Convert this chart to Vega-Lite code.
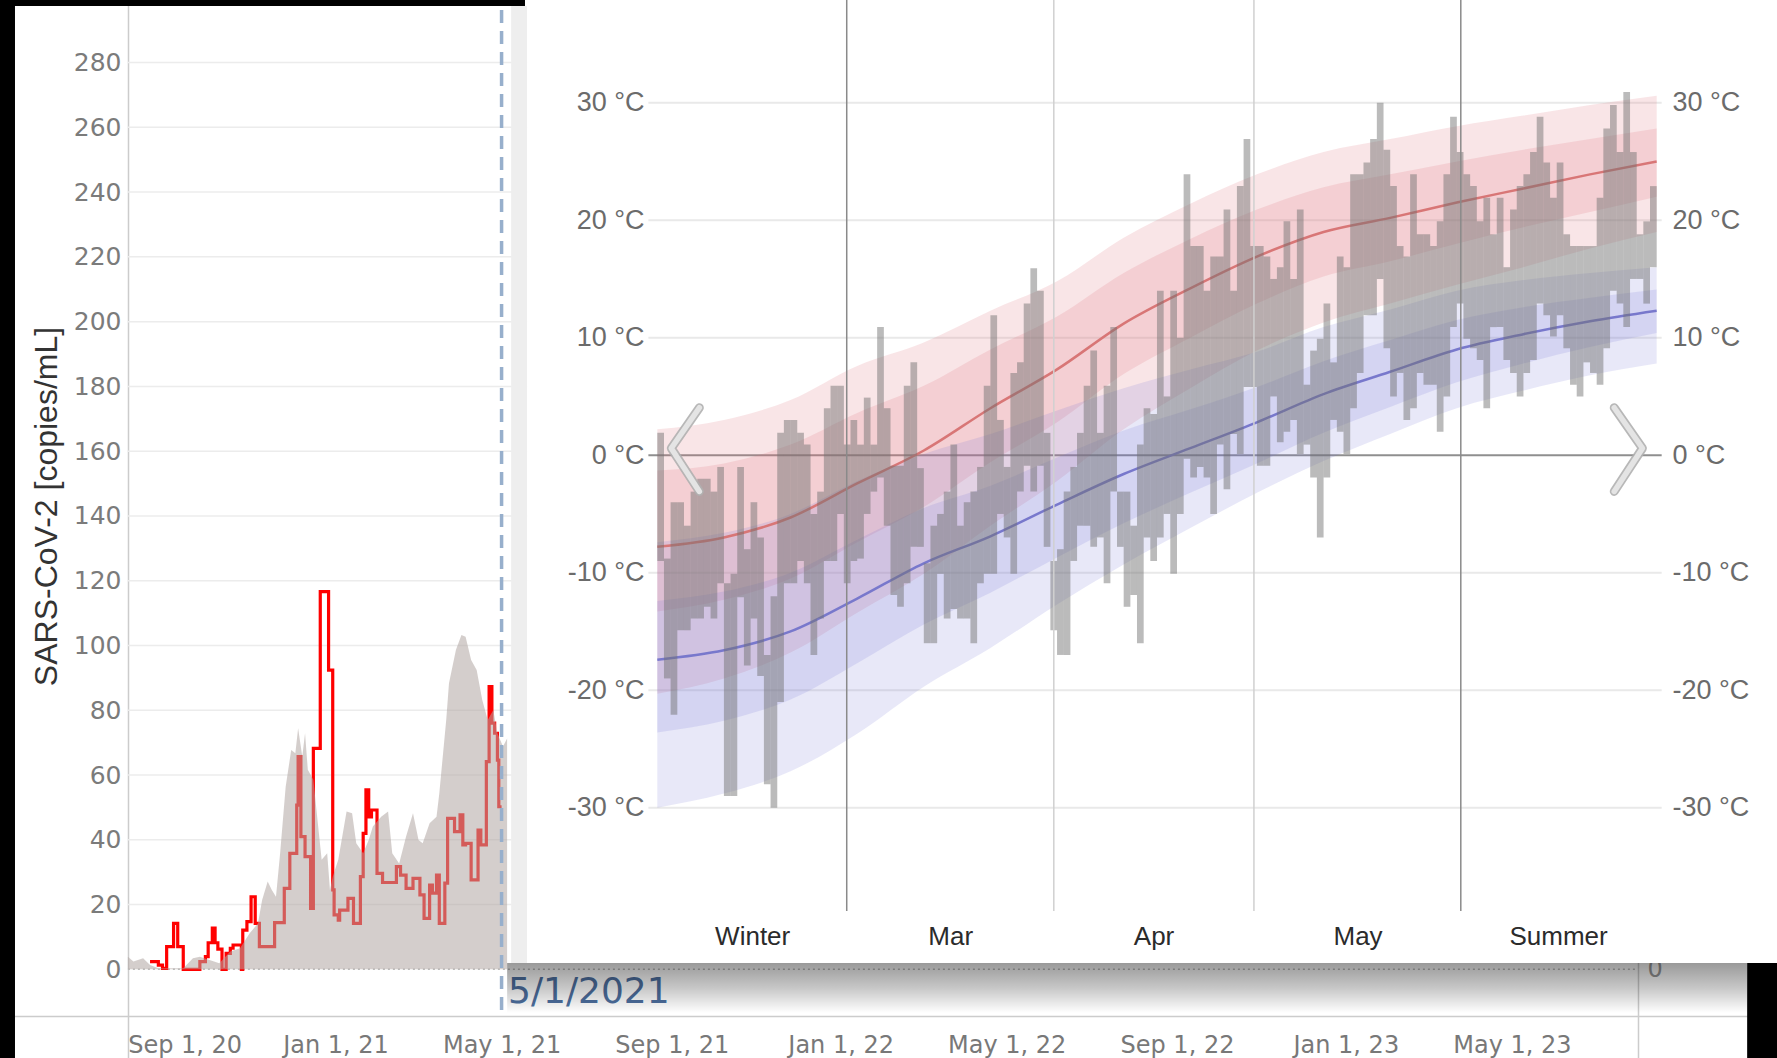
{
"$schema": "https://vega.github.io/schema/vega-lite/v6.json",
"width": 1777, "height": 1058, "padding": 0,
"autosize": {"type": "none"},
"background": "#ffffff",
"config": {"view": {"stroke": null}},
"datasets": {
"tgrid": [{"v":20},{"v":40},{"v":60},{"v":80},{"v":100},{"v":120},{"v":140},{"v":160},{"v":180},{"v":200},{"v":220},{"v":240},{"v":260},{"v":280}],
"tarea": [
{"date":"2020-08-04","v":3.9},{"date":"2020-08-08","v":2.4},{"date":"2020-08-15","v":3.4},{"date":"2020-08-20","v":1.3},{"date":"2020-08-26","v":0.3},{"date":"2020-09-13","v":0.3},{"date":"2020-09-20","v":3.4},{"date":"2020-09-25","v":3.9},{"date":"2020-10-02","v":2.9},{"date":"2020-10-09","v":1.9},{"date":"2020-10-17","v":5.5},{"date":"2020-10-24","v":6.5},{"date":"2020-10-31","v":11.1},{"date":"2020-11-06","v":14.2},{"date":"2020-11-09","v":21.4},{"date":"2020-11-13","v":27.1},{"date":"2020-11-16","v":24.5},{"date":"2020-11-19","v":22.4},{"date":"2020-11-22","v":35.8},{"date":"2020-11-26","v":56.4},{"date":"2020-11-30","v":67.7},{"date":"2020-12-03","v":66.7},{"date":"2020-12-05","v":74.4},{"date":"2020-12-08","v":65.7},{"date":"2020-12-10","v":72.9},{"date":"2020-12-12","v":61.6},{"date":"2020-12-16","v":58.5},{"date":"2020-12-20","v":42.0},{"date":"2020-12-22","v":33.8},{"date":"2020-12-26","v":35.8},{"date":"2020-12-28","v":24.5},{"date":"2020-12-30","v":28.6},{"date":"2021-01-03","v":33.8},{"date":"2021-01-09","v":48.7},{"date":"2021-01-13","v":48.2},{"date":"2021-01-16","v":38.9},{"date":"2021-01-21","v":35.8},{"date":"2021-01-25","v":39.9},{"date":"2021-01-28","v":44.1},{"date":"2021-02-03","v":47.1},{"date":"2021-02-08","v":48.7},{"date":"2021-02-11","v":35.8},{"date":"2021-02-16","v":32.7},{"date":"2021-02-21","v":41.0},{"date":"2021-02-26","v":48.2},{"date":"2021-03-02","v":39.9},{"date":"2021-03-05","v":38.9},{"date":"2021-03-10","v":45.1},{"date":"2021-03-15","v":47.1},{"date":"2021-03-17","v":54.3},{"date":"2021-03-22","v":77.0},{"date":"2021-03-24","v":88.3},{"date":"2021-03-29","v":98.6},{"date":"2021-04-02","v":103.2},{"date":"2021-04-05","v":102.7},{"date":"2021-04-09","v":95.5},{"date":"2021-04-13","v":92.4},{"date":"2021-04-17","v":83.2},{"date":"2021-04-21","v":77.0},{"date":"2021-04-25","v":80.1},{"date":"2021-04-28","v":72.9},{"date":"2021-05-02","v":68.8},{"date":"2021-05-05","v":71.3}],
"red": [
{"date":"2020-08-20","v":2.4},{"date":"2020-08-26","v":1.3},{"date":"2020-08-29","v":0.3},{"date":"2020-09-01","v":7.0},{"date":"2020-09-06","v":14.2},{"date":"2020-09-09","v":7.0},{"date":"2020-09-13","v":0},{"date":"2020-09-25","v":2.4},{"date":"2020-09-29","v":3.9},{"date":"2020-10-01","v":8.2},{"date":"2020-10-04","v":12.7},{"date":"2020-10-06","v":8.2},{"date":"2020-10-08","v":6.2},{"date":"2020-10-11","v":0},{"date":"2020-10-14","v":4.9},{"date":"2020-10-17","v":6.5},{"date":"2020-10-19","v":7.5},{"date":"2020-10-25","v":0},{"date":"2020-10-26","v":12.1},{"date":"2020-10-29","v":14.7},{"date":"2020-11-01","v":22.4},{"date":"2020-11-04","v":14.2},{"date":"2020-11-07","v":7.0},{"date":"2020-11-14","v":7.0},{"date":"2020-11-18","v":14.4},{"date":"2020-11-25","v":25.0},{"date":"2020-11-29","v":35.8},{"date":"2020-12-04","v":50.7},{"date":"2020-12-05","v":65.7},{"date":"2020-12-07","v":41.0},{"date":"2020-12-10","v":34.8},{"date":"2020-12-14","v":18.8},{"date":"2020-12-16","v":68.2},{"date":"2020-12-21","v":116.6},{"date":"2020-12-27","v":92.4},{"date":"2020-12-30","v":24.5},{"date":"2020-12-31","v":16.8},{"date":"2021-01-03","v":15.2},{"date":"2021-01-04","v":18.3},{"date":"2021-01-10","v":21.9},{"date":"2021-01-14","v":14.2},{"date":"2021-01-19","v":28.6},{"date":"2021-01-21","v":42.0},{"date":"2021-01-23","v":55.4},{"date":"2021-01-25","v":47.1},{"date":"2021-01-27","v":49.2},{"date":"2021-01-31","v":29.6},{"date":"2021-02-04","v":26.8},{"date":"2021-02-14","v":31.7},{"date":"2021-02-17","v":29.1},{"date":"2021-02-21","v":25.0},{"date":"2021-02-26","v":28.1},{"date":"2021-03-03","v":23.0},{"date":"2021-03-06","v":15.7},{"date":"2021-03-10","v":26.0},{"date":"2021-03-12","v":23.5},{"date":"2021-03-15","v":29.1},{"date":"2021-03-17","v":14.2},{"date":"2021-03-21","v":26.6},{"date":"2021-03-23","v":46.6},{"date":"2021-03-28","v":42.5},{"date":"2021-04-01","v":47.7},{"date":"2021-04-03","v":38.4},{"date":"2021-04-05","v":38.9},{"date":"2021-04-09","v":27.6},{"date":"2021-04-14","v":43.0},{"date":"2021-04-16","v":38.4},{"date":"2021-04-20","v":64.1},{"date":"2021-04-22","v":87.3},{"date":"2021-04-24","v":76.0},{"date":"2021-04-26","v":72.9},{"date":"2021-04-28","v":64.6},{"date":"2021-04-29","v":50.2},{"date":"2021-05-01","v":50.2}],
"wgrid": [{"t":-30},{"t":-20},{"t":-10},{"t":0},{"t":10},{"t":20},{"t":30}],
"months": [{"d":27.93,"k":"a"},{"d":59.01,"k":"b"},{"d":89.05,"k":"b"},{"d":120.1,"k":"a"}],
"chev": [{"side":"L","o":1,"d":5.81,"t":4.04},{"side":"L","o":2,"d":1.59,"t":0.59},{"side":"L","o":3,"d":5.81,"t":-3.08},{"side":"R","o":1,"d":143.13,"t":4.04},{"side":"R","o":2,"d":147.37,"t":0.59},{"side":"R","o":3,"d":143.13,"t":-3.08}],
"bands": [
{"d":-0.5,"ah":-7.8,"h90":2.2,"h75":-1.3,"h25":-13.3,"h10":-20.3,"al":-17.4,"l90":-7.4,"l75":-12.4,"l25":-23.6,"l10":-30.0},
{"d":9.5,"ah":-7.0,"h90":3.0,"h75":-0.7,"h25":-12.3,"h10":-19.0,"al":-16.6,"l90":-6.6,"l75":-11.6,"l25":-22.6,"l10":-28.8},
{"d":19.5,"ah":-5.3,"h90":4.7,"h75":0.9,"h25":-10.5,"h10":-16.8,"al":-15.0,"l90":-5.0,"l75":-10.0,"l25":-20.8,"l10":-26.9},
{"d":29.5,"ah":-2.4,"h90":7.6,"h75":3.6,"h25":-7.4,"h10":-13.4,"al":-12.2,"l90":-2.2,"l75":-7.2,"l25":-17.7,"l10":-23.7},
{"d":39.5,"ah":0.4,"h90":9.6,"h75":5.9,"h25":-4.4,"h10":-10.1,"al":-9.2,"l90":0.1,"l75":-4.5,"l25":-14.4,"l10":-19.7},
{"d":49.5,"ah":4.0,"h90":12.3,"h75":9.0,"h25":-0.6,"h10":-6.0,"al":-6.9,"l90":1.8,"l75":-2.6,"l25":-11.7,"l10":-16.4},
{"d":59.5,"ah":7.3,"h90":14.8,"h75":11.8,"h25":2.8,"h10":-2.2,"al":-4.2,"l90":3.8,"l75":-0.2,"l25":-8.7,"l10":-12.7},
{"d":69.5,"ah":11.2,"h90":18.5,"h75":15.5,"h25":6.9,"h10":2.2,"al":-1.6,"l90":5.7,"l75":2.1,"l25":-5.8,"l10":-9.3},
{"d":79.5,"ah":14.2,"h90":21.4,"h75":18.4,"h25":10.0,"h10":5.7,"al":0.6,"l90":7.3,"l75":3.9,"l25":-3.2,"l10":-6.2},
{"d":89.5,"ah":16.9,"h90":23.9,"h75":20.9,"h25":12.9,"h10":8.9,"al":2.8,"l90":8.8,"l75":5.8,"l25":-0.7,"l10":-3.2},
{"d":99.5,"ah":19.0,"h90":25.8,"h75":22.8,"h25":15.2,"h10":11.3,"al":5.2,"l90":10.9,"l75":8.0,"l25":1.9,"l10":-0.5},
{"d":109.5,"ah":20.2,"h90":26.9,"h75":23.9,"h25":16.5,"h10":12.9,"al":7.1,"l90":12.4,"l75":9.8,"l25":4.1,"l10":1.8},
{"d":119.5,"ah":21.5,"h90":28.0,"h75":25.0,"h25":18.0,"h10":14.5,"al":9.0,"l90":14.0,"l75":11.5,"l25":6.2,"l10":4.0},
{"d":129.5,"ah":22.7,"h90":28.9,"h75":26.0,"h25":19.4,"h10":16.0,"al":10.3,"l90":14.9,"l75":12.6,"l25":7.8,"l10":5.5},
{"d":139.5,"ah":23.9,"h90":29.8,"h75":26.9,"h25":20.7,"h10":17.6,"al":11.4,"l90":15.5,"l75":13.4,"l25":9.2,"l10":6.8},
{"d":149.5,"ah":25.0,"h90":30.6,"h75":27.8,"h25":22.0,"h10":19.0,"al":12.3,"l90":16.0,"l75":14.1,"l25":10.4,"l10":7.8}],
"bars": [
{"d":0,"lo":-9.0,"hi":1.9},{"d":1,"lo":-19.0,"hi":-8.8},{"d":2,"lo":-22.1,"hi":-4.0},{"d":3,"lo":-14.9,"hi":-4.0},{"d":4,"lo":-14.9,"hi":-6.0},{"d":5,"lo":-13.9,"hi":-3.1},{"d":6,"lo":-13.9,"hi":-2.0},{"d":7,"lo":-12.9,"hi":-2.0},{"d":8,"lo":-13.9,"hi":-3.1},{"d":9,"lo":-10.9,"hi":-1.0},
{"d":10,"lo":-29.0,"hi":-10.9},{"d":11,"lo":-29.0,"hi":-10.1},{"d":12,"lo":-12.1,"hi":-1.0},{"d":13,"lo":-17.9,"hi":-8.0},{"d":14,"lo":-13.9,"hi":-4.0},{"d":15,"lo":-18.8,"hi":-7.0},{"d":16,"lo":-28.0,"hi":-17.0},{"d":17,"lo":-30.0,"hi":-12.0},{"d":18,"lo":-21.0,"hi":1.9},{"d":19,"lo":-10.9,"hi":3.0},
{"d":20,"lo":-10.9,"hi":3.0},{"d":21,"lo":-9.0,"hi":1.9},{"d":22,"lo":-10.9,"hi":0.9},{"d":23,"lo":-17.0,"hi":-5.0},{"d":24,"lo":-13.9,"hi":-3.1},{"d":25,"lo":-9.0,"hi":4.0},{"d":26,"lo":-9.0,"hi":5.9},{"d":27,"lo":-5.0,"hi":5.9},{"d":28,"lo":-10.9,"hi":0.9},{"d":29,"lo":-9.0,"hi":3.0},
{"d":30,"lo":-8.8,"hi":0.9},{"d":31,"lo":-5.0,"hi":4.9},{"d":32,"lo":-3.1,"hi":0.9},{"d":33,"lo":-1.9,"hi":10.9},{"d":34,"lo":-6.0,"hi":4.0},{"d":35,"lo":-11.9,"hi":-0.9},{"d":36,"lo":-12.9,"hi":-0.9},{"d":37,"lo":-10.9,"hi":5.9},{"d":38,"lo":-7.8,"hi":7.9},{"d":39,"lo":-7.8,"hi":-1.1},
{"d":40,"lo":-16.0,"hi":-9.2},{"d":41,"lo":-16.0,"hi":-6.0},{"d":42,"lo":-10.1,"hi":-5.0},{"d":43,"lo":-13.9,"hi":-3.1},{"d":44,"lo":-13.1,"hi":0.9},{"d":45,"lo":-13.9,"hi":-6.0},{"d":46,"lo":-13.9,"hi":-4.0},{"d":47,"lo":-16.0,"hi":-3.1},{"d":48,"lo":-10.9,"hi":-1.0},{"d":49,"lo":-10.1,"hi":5.9},
{"d":50,"lo":-10.1,"hi":11.9},{"d":51,"lo":-5.0,"hi":3.0},{"d":52,"lo":-7.0,"hi":-1.0},{"d":53,"lo":-10.1,"hi":7.0},{"d":54,"lo":-3.1,"hi":7.9},{"d":55,"lo":-0.9,"hi":12.9},{"d":56,"lo":-3.1,"hi":15.9},{"d":57,"lo":-0.9,"hi":14.0},{"d":58,"lo":-7.8,"hi":1.9},{"d":59,"lo":-14.9,"hi":-9.0},
{"d":60,"lo":-17.0,"hi":-8.0},{"d":61,"lo":-17.0,"hi":-3.1},{"d":62,"lo":-9.0,"hi":-1.0},{"d":63,"lo":-6.0,"hi":1.9},{"d":64,"lo":-6.0,"hi":5.9},{"d":65,"lo":-7.8,"hi":8.9},{"d":66,"lo":-7.0,"hi":1.9},{"d":67,"lo":-10.9,"hi":5.9},{"d":68,"lo":-3.1,"hi":10.9},{"d":69,"lo":-7.8,"hi":-3.1},
{"d":70,"lo":-12.9,"hi":-3.1},{"d":71,"lo":-11.9,"hi":-6.0},{"d":72,"lo":-16.0,"hi":0.9},{"d":73,"lo":-7.0,"hi":4.0},{"d":74,"lo":-9.0,"hi":3.5},{"d":75,"lo":-7.0,"hi":14.0},{"d":76,"lo":-5.0,"hi":5.0},{"d":77,"lo":-10.1,"hi":14.0},{"d":78,"lo":-5.0,"hi":10.0},{"d":79,"lo":-0.3,"hi":23.9},
{"d":80,"lo":-1.9,"hi":17.8},{"d":81,"lo":-1.0,"hi":17.8},{"d":82,"lo":-1.9,"hi":14.0},{"d":83,"lo":-5.0,"hi":16.9},{"d":84,"lo":0.9,"hi":16.9},{"d":85,"lo":-2.9,"hi":20.9},{"d":86,"lo":1.8,"hi":14.0},{"d":87,"lo":0.1,"hi":22.9},{"d":88,"lo":5.8,"hi":26.9},{"d":89,"lo":5.8,"hi":17.8},
{"d":90,"lo":-0.9,"hi":17.8},{"d":91,"lo":-0.9,"hi":16.9},{"d":92,"lo":5.0,"hi":15.0},{"d":93,"lo":1.1,"hi":16.0},{"d":94,"lo":2.0,"hi":19.9},{"d":95,"lo":3.0,"hi":15.0},{"d":96,"lo":0.1,"hi":20.9},{"d":97,"lo":0.9,"hi":6.0},{"d":98,"lo":-1.9,"hi":8.9},{"d":99,"lo":-7.0,"hi":9.9},
{"d":100,"lo":-1.9,"hi":12.9},{"d":101,"lo":3.0,"hi":7.9},{"d":102,"lo":2.0,"hi":16.9},{"d":103,"lo":0.1,"hi":16.0},{"d":104,"lo":4.0,"hi":23.9},{"d":105,"lo":7.0,"hi":23.9},{"d":106,"lo":11.9,"hi":24.9},{"d":107,"lo":11.9,"hi":26.9},{"d":108,"lo":15.0,"hi":30.0},{"d":109,"lo":9.1,"hi":26.0},
{"d":110,"lo":5.0,"hi":22.9},{"d":111,"lo":7.0,"hi":17.8},{"d":112,"lo":3.0,"hi":16.9},{"d":113,"lo":4.0,"hi":23.9},{"d":114,"lo":7.0,"hi":18.8},{"d":115,"lo":6.0,"hi":18.8},{"d":116,"lo":6.0,"hi":17.8},{"d":117,"lo":2.0,"hi":19.9},{"d":118,"lo":5.0,"hi":23.9},{"d":119,"lo":10.9,"hi":28.8},
{"d":120,"lo":12.9,"hi":25.8},{"d":121,"lo":9.9,"hi":23.9},{"d":122,"lo":9.1,"hi":22.9},{"d":123,"lo":8.1,"hi":19.9},{"d":124,"lo":4.0,"hi":21.9},{"d":125,"lo":10.9,"hi":18.8},{"d":126,"lo":10.9,"hi":21.9},{"d":127,"lo":8.1,"hi":16.0},{"d":128,"lo":7.0,"hi":20.9},{"d":129,"lo":5.0,"hi":22.9},
{"d":130,"lo":7.0,"hi":23.9},{"d":131,"lo":8.1,"hi":25.8},{"d":132,"lo":12.9,"hi":28.8},{"d":133,"lo":11.9,"hi":24.9},{"d":134,"lo":10.1,"hi":21.9},{"d":135,"lo":11.9,"hi":24.9},{"d":136,"lo":9.1,"hi":18.8},{"d":137,"lo":6.0,"hi":17.8},{"d":138,"lo":5.0,"hi":17.8},{"d":139,"lo":7.9,"hi":17.8},
{"d":140,"lo":7.0,"hi":17.8},{"d":141,"lo":6.0,"hi":21.9},{"d":142,"lo":9.1,"hi":27.8},{"d":143,"lo":14.0,"hi":29.8},{"d":144,"lo":12.9,"hi":25.8},{"d":145,"lo":10.9,"hi":30.9},{"d":146,"lo":15.0,"hi":25.8},{"d":147,"lo":15.0,"hi":18.8},{"d":148,"lo":12.9,"hi":19.9},{"d":149,"lo":16.0,"hi":22.9}]
},
"resolve": {"scale": {"x": "independent", "y": "independent"}, "axis": {"x": "independent", "y": "independent"}},
"layer": [
{
"resolve": {"axis": {"x": "independent", "y": "independent"}},
"layer": [
{"data": {"name": "tgrid"}, "mark": {"type": "rule", "color": "#ececec", "strokeWidth": 1.5},
 "encoding": {
  "x": {"datum": {"year": 2020, "month": 8, "date": 4, "utc": true}, "type": "temporal", "scale": {"type": "utc", "domain": [{"year": 2020, "month": 5, "date": 3, "hours": 14, "minutes": 10, "utc": true}, {"year": 2023, "month": 11, "date": 8, "hours": 13, "minutes": 12, "utc": true}], "nice": false}, "axis": null},
  "x2": {"datum": {"year": 2023, "month": 7, "date": 31, "utc": true}},
  "y": {"field": "v", "type": "quantitative", "scale": {"domain": [-27.39, 299.32], "nice": false, "zero": false}, "axis": null}}},
{"data": {"values": [{}]}, "mark": {"type": "rule", "color": "#bdbdbd", "strokeWidth": 1.5, "strokeDash": [2, 3]},
 "encoding": {
  "x": {"datum": {"year": 2020, "month": 8, "date": 4, "utc": true}, "type": "temporal", "scale": {"type": "utc", "domain": [{"year": 2020, "month": 5, "date": 3, "hours": 14, "minutes": 10, "utc": true}, {"year": 2023, "month": 11, "date": 8, "hours": 13, "minutes": 12, "utc": true}], "nice": false}, "axis": null},
  "x2": {"datum": {"year": 2023, "month": 7, "date": 31, "utc": true}},
  "y": {"datum": 0, "type": "quantitative", "scale": {"domain": [-27.39, 299.32], "nice": false, "zero": false}, "axis": null}}},
{"data": {"name": "red"}, "mark": {"type": "line", "color": "#ff0000", "strokeWidth": 3.2, "interpolate": "step-after"},
 "encoding": {
  "x": {"field": "date", "type": "temporal", "scale": {"type": "utc", "domain": [{"year": 2020, "month": 5, "date": 3, "hours": 14, "minutes": 10, "utc": true}, {"year": 2023, "month": 11, "date": 8, "hours": 13, "minutes": 12, "utc": true}], "nice": false},
   "axis": {"orient": "bottom", "offset": -42, "values": [{"year": 2020, "month": 9, "date": 1, "utc": true}, {"year": 2021, "month": 1, "date": 1, "utc": true}, {"year": 2021, "month": 5, "date": 1, "utc": true}, {"year": 2021, "month": 9, "date": 1, "utc": true}, {"year": 2022, "month": 1, "date": 1, "utc": true}, {"year": 2022, "month": 5, "date": 1, "utc": true}, {"year": 2022, "month": 9, "date": 1, "utc": true}, {"year": 2023, "month": 1, "date": 1, "utc": true}, {"year": 2023, "month": 5, "date": 1, "utc": true}],
    "format": "%b %-d, %y", "labelFont": "DejaVu Sans", "labelFontSize": 24, "labelColor": "#787878", "labelPadding": 17, "labelOffset": {"condition": {"test": "utcyear(datum.value) === 2020", "value": 18}, "value": 0}, "ticks": false, "grid": false, "domainColor": "#cccccc", "domainWidth": 1.5, "title": null, "labelFlush": false, "labelOverlap": false}},
  "y": {"field": "v", "type": "quantitative", "scale": {"domain": [-27.39, 299.32], "nice": false, "zero": false},
   "axis": {"orient": "right", "offset": -139, "values": [0], "labelFont": "DejaVu Sans", "labelFontSize": 24, "labelColor": "#999999", "labelPadding": 9, "ticks": false, "grid": false, "domainColor": "#cccccc", "domainWidth": 1.5, "title": null}}}},
{"data": {"name": "tarea"}, "mark": {"type": "area", "color": "#b0a6a3", "opacity": 0.55, "interpolate": "linear"},
 "encoding": {
  "x": {"field": "date", "type": "temporal", "scale": {"type": "utc", "domain": [{"year": 2020, "month": 5, "date": 3, "hours": 14, "minutes": 10, "utc": true}, {"year": 2023, "month": 11, "date": 8, "hours": 13, "minutes": 12, "utc": true}], "nice": false}, "axis": null},
  "y": {"field": "v", "type": "quantitative", "scale": {"domain": [-27.39, 299.32], "nice": false, "zero": false},
   "axis": {"orient": "left", "offset": -128, "values": [0, 20, 40, 60, 80, 100, 120, 140, 160, 180, 200, 220, 240, 260, 280], "labelFont": "DejaVu Sans", "labelFontSize": 25, "labelColor": "#7b7b7b", "labelPadding": 7, "ticks": false, "grid": false, "domainColor": "#cccccc", "domainWidth": 1.5,
    "title": "SARS-CoV-2 [copies/mL]", "titleFont": "Liberation Sans", "titleFontSize": 32, "titleFontWeight": "normal", "titleColor": "#333333", "titlePadding": 10, "titleY": 506}},
  "y2": {"datum": 0}}},
{"data": {"values": [{}]}, "mark": {"type": "rule", "color": "#97afcc", "strokeWidth": 3.5, "strokeDash": [13, 8]},
 "encoding": {
  "x": {"datum": {"year": 2021, "month": 5, "date": 1, "utc": true}, "type": "temporal", "scale": {"type": "utc", "domain": [{"year": 2020, "month": 5, "date": 3, "hours": 14, "minutes": 10, "utc": true}, {"year": 2023, "month": 11, "date": 8, "hours": 13, "minutes": 12, "utc": true}], "nice": false}, "axis": null},
  "y": {"datum": 400, "type": "quantitative", "scale": {"domain": [-27.39, 299.32], "nice": false, "zero": false}, "axis": null},
  "y2": {"datum": -14.42}}},
{"data": {"values": [{}]}, "mark": {"type": "text", "text": "5/1/2021", "align": "left", "baseline": "alphabetic", "dx": 6.4, "font": "DejaVu Sans", "fontSize": 36, "color": "#4d6f9f"},
 "encoding": {
  "x": {"datum": {"year": 2021, "month": 5, "date": 1, "utc": true}, "type": "temporal", "scale": {"type": "utc", "domain": [{"year": 2020, "month": 5, "date": 3, "hours": 14, "minutes": 10, "utc": true}, {"year": 2023, "month": 11, "date": 8, "hours": 13, "minutes": 12, "utc": true}], "nice": false}, "axis": null},
  "y": {"datum": -10.5, "type": "quantitative", "scale": {"domain": [-27.39, 299.32], "nice": false, "zero": false}, "axis": null}}},
{"data": {"values": [{}]}, "mark": {"type": "rect", "color": "#000000"},
 "encoding": {
  "x": {"datum": {"year": 2020, "month": 1, "date": 1, "utc": true}, "type": "temporal", "scale": {"type": "utc", "domain": [{"year": 2020, "month": 5, "date": 3, "hours": 14, "minutes": 10, "utc": true}, {"year": 2023, "month": 11, "date": 8, "hours": 13, "minutes": 12, "utc": true}], "nice": false}, "axis": null},
  "x2": {"datum": {"year": 2020, "month": 5, "date": 14, "hours": 10, "minutes": 5, "utc": true}},
  "y": {"datum": -100, "type": "quantitative", "scale": {"domain": [-27.39, 299.32], "nice": false, "zero": false}, "axis": null},
  "y2": {"datum": 400}}},
{"data": {"values": [{}]}, "mark": {"type": "rect", "color": "#000000"},
 "encoding": {
  "x": {"datum": {"year": 2020, "month": 1, "date": 1, "utc": true}, "type": "temporal", "scale": {"type": "utc", "domain": [{"year": 2020, "month": 5, "date": 3, "hours": 14, "minutes": 10, "utc": true}, {"year": 2023, "month": 11, "date": 8, "hours": 13, "minutes": 12, "utc": true}], "nice": false}, "axis": null},
  "x2": {"datum": {"year": 2021, "month": 5, "date": 17, "hours": 22, "minutes": 5, "utc": true}},
  "y": {"datum": 297.47, "type": "quantitative", "scale": {"domain": [-27.39, 299.32], "nice": false, "zero": false}, "axis": null},
  "y2": {"datum": 400}}}
]
},
{
"resolve": {"axis": {"x": "independent", "y": "independent"}},
"layer": [
{"data": {"values": [{}]}, "mark": {"type": "rect", "color": "#eeeeee"},
 "encoding": {
  "x": {"datum": -22.44, "type": "quantitative", "scale": {"domain": [-98.41, 166.81], "nice": false, "zero": false}, "axis": null},
  "x2": {"datum": -20.05},
  "y": {"datum": 38.23, "type": "quantitative", "scale": {"domain": [-51.302, 38.74], "nice": false, "zero": false}, "axis": null},
  "y2": {"datum": -43.22}}},
{"data": {"values": [{}]}, "mark": {"type": "rect", "color": "#ffffff"},
 "encoding": {
  "x": {"datum": -20.05, "type": "quantitative", "scale": {"domain": [-98.41, 166.81], "nice": false, "zero": false}, "axis": null},
  "x2": {"datum": 200},
  "y": {"datum": -43.22, "type": "quantitative", "scale": {"domain": [-51.302, 38.74], "nice": false, "zero": false}, "axis": null},
  "y2": {"datum": 100}}},
{"data": {"values": [{}]}, "mark": {"type": "rect", "color": {"gradient": "linear", "x1": 0, "y1": 0, "x2": 0, "y2": 1, "stops": [{"offset": 0, "color": "rgba(0,0,0,0.4)"}, {"offset": 0.5, "color": "rgba(0,0,0,0.22)"}, {"offset": 1, "color": "rgba(0,0,0,0.0)"}]}},
 "encoding": {
  "x": {"datum": -23.04, "type": "quantitative", "scale": {"domain": [-98.41, 166.81], "nice": false, "zero": false}, "axis": null},
  "x2": {"datum": 163.08},
  "y": {"datum": -43.22, "type": "quantitative", "scale": {"domain": [-51.302, 38.74], "nice": false, "zero": false}, "axis": null},
  "y2": {"datum": -47.47}}},
{"data": {"name": "wgrid"}, "mark": {"type": "rule", "strokeWidth": 2},
 "encoding": {
  "x": {"datum": -1.84, "type": "quantitative", "scale": {"domain": [-98.41, 166.81], "nice": false, "zero": false}, "axis": null},
  "x2": {"datum": 150.25},
  "y": {"field": "t", "type": "quantitative", "scale": {"domain": [-51.302, 38.74], "nice": false, "zero": false},
   "axis": {"orient": "left", "offset": -647, "values": [-30, -20, -10, 0, 10, 20, 30], "labelExpr": "datum.value + ' °C'", "labelFont": "Liberation Sans", "labelFontSize": 27, "labelColor": "#6b6b6b", "labelPadding": 3, "ticks": false, "domain": false, "grid": false, "title": null, "zindex": 1}},
  "color": {"condition": {"test": "datum.t === 0", "value": "#8f8f8f"}, "value": "#e9e9e9"}}},
{"data": {"name": "bands"}, "mark": {"type": "area", "color": "#dc6e78", "opacity": 0.18, "interpolate": "monotone"},
 "encoding": {
  "x": {"field": "d", "type": "quantitative", "scale": {"domain": [-98.41, 166.81], "nice": false, "zero": false}, "axis": null},
  "y": {"field": "h10", "type": "quantitative", "scale": {"domain": [-51.302, 38.74], "nice": false, "zero": false},
   "axis": {"orient": "right", "offset": -111, "values": [-30, -20, -10, 0, 10, 20, 30], "labelExpr": "datum.value + ' °C'", "labelFont": "Liberation Sans", "labelFontSize": 27, "labelColor": "#6b6b6b", "labelPadding": 6, "ticks": false, "domain": false, "grid": false, "title": null, "zindex": 1}},
  "y2": {"field": "h90"}}},
{"data": {"name": "bands"}, "mark": {"type": "area", "color": "#dc6e78", "opacity": 0.18, "interpolate": "monotone"},
 "encoding": {
  "x": {"field": "d", "type": "quantitative", "scale": {"domain": [-98.41, 166.81], "nice": false, "zero": false}, "axis": null},
  "y": {"field": "h25", "type": "quantitative", "scale": {"domain": [-51.302, 38.74], "nice": false, "zero": false}, "axis": null},
  "y2": {"field": "h75"}}},
{"data": {"name": "bands"}, "mark": {"type": "area", "color": "#6e6ed2", "opacity": 0.16, "interpolate": "monotone"},
 "encoding": {
  "x": {"field": "d", "type": "quantitative", "scale": {"domain": [-98.41, 166.81], "nice": false, "zero": false}, "axis": null},
  "y": {"field": "l10", "type": "quantitative", "scale": {"domain": [-51.302, 38.74], "nice": false, "zero": false}, "axis": null},
  "y2": {"field": "l90"}}},
{"data": {"name": "bands"}, "mark": {"type": "area", "color": "#6e6ed2", "opacity": 0.16, "interpolate": "monotone"},
 "encoding": {
  "x": {"field": "d", "type": "quantitative", "scale": {"domain": [-98.41, 166.81], "nice": false, "zero": false}, "axis": null},
  "y": {"field": "l25", "type": "quantitative", "scale": {"domain": [-51.302, 38.74], "nice": false, "zero": false}, "axis": null},
  "y2": {"field": "l75"}}},
{"data": {"name": "bands"}, "mark": {"type": "line", "color": "#d87676", "strokeWidth": 2.5, "interpolate": "monotone"},
 "encoding": {
  "x": {"field": "d", "type": "quantitative", "scale": {"domain": [-98.41, 166.81], "nice": false, "zero": false}, "axis": null},
  "y": {"field": "ah", "type": "quantitative", "scale": {"domain": [-51.302, 38.74], "nice": false, "zero": false}, "axis": null}}},
{"data": {"name": "bands"}, "mark": {"type": "line", "color": "#7878cc", "strokeWidth": 2.5, "interpolate": "monotone"},
 "encoding": {
  "x": {"field": "d", "type": "quantitative", "scale": {"domain": [-98.41, 166.81], "nice": false, "zero": false}, "axis": null},
  "y": {"field": "al", "type": "quantitative", "scale": {"domain": [-51.302, 38.74], "nice": false, "zero": false}, "axis": null}}},
{"data": {"name": "bars"}, "mark": {"type": "bar", "color": "#707070", "opacity": 0.48, "size": 6.7},
 "encoding": {
  "x": {"field": "d", "type": "quantitative", "scale": {"domain": [-98.41, 166.81], "nice": false, "zero": false},
   "axis": {"orient": "bottom", "offset": -141, "values": [13.74, 43.47, 73.98, 104.6, 134.7], "labelExpr": "datum.value < 20 ? 'Winter' : datum.value < 50 ? 'Mar' : datum.value < 80 ? 'Apr' : datum.value < 110 ? 'May' : 'Summer'", "labelFont": "Liberation Sans", "labelFontSize": 26, "labelColor": "#2b2b2b", "labelPadding": 6, "ticks": false, "domain": false, "grid": false, "title": null, "zindex": 1, "labelFlush": false, "labelOverlap": false}},
  "y": {"field": "lo", "type": "quantitative", "scale": {"domain": [-51.302, 38.74], "nice": false, "zero": false}, "axis": null},
  "y2": {"field": "hi"}}},
{"data": {"name": "months"}, "mark": {"type": "rule", "strokeWidth": 1.5},
 "encoding": {
  "x": {"field": "d", "type": "quantitative", "scale": {"domain": [-98.41, 166.81], "nice": false, "zero": false}, "axis": null},
  "y": {"datum": 38.74, "type": "quantitative", "scale": {"domain": [-51.302, 38.74], "nice": false, "zero": false}, "axis": null},
  "y2": {"datum": -38.8},
  "color": {"condition": {"test": "datum.k === 'a'", "value": "#8a8a8a"}, "value": "#d0d0d0"}}},
{"data": {"name": "chev"}, "mark": {"type": "line", "color": "#b0b0b0", "strokeWidth": 9, "strokeCap": "round", "strokeJoin": "round", "opacity": 0.9},
 "encoding": {
  "x": {"field": "d", "type": "quantitative", "scale": {"domain": [-98.41, 166.81], "nice": false, "zero": false}, "axis": null},
  "y": {"field": "t", "type": "quantitative", "scale": {"domain": [-51.302, 38.74], "nice": false, "zero": false}, "axis": null},
  "detail": {"field": "side"}, "order": {"field": "o"}}},
{"data": {"name": "chev"}, "mark": {"type": "line", "color": "#e4e4e4", "strokeWidth": 5.5, "strokeCap": "round", "strokeJoin": "round"},
 "encoding": {
  "x": {"field": "d", "type": "quantitative", "scale": {"domain": [-98.41, 166.81], "nice": false, "zero": false}, "axis": null},
  "y": {"field": "t", "type": "quantitative", "scale": {"domain": [-51.302, 38.74], "nice": false, "zero": false}, "axis": null},
  "detail": {"field": "side"}, "order": {"field": "o"}}},
{"data": {"values": [{}]}, "mark": {"type": "rect", "color": "#000000"},
 "encoding": {
  "x": {"datum": 163.08, "type": "quantitative", "scale": {"domain": [-98.41, 166.81], "nice": false, "zero": false}, "axis": null},
  "x2": {"datum": 300},
  "y": {"datum": -43.22, "type": "quantitative", "scale": {"domain": [-51.302, 38.74], "nice": false, "zero": false}, "axis": null},
  "y2": {"datum": -100}}}
]
}
]
}
